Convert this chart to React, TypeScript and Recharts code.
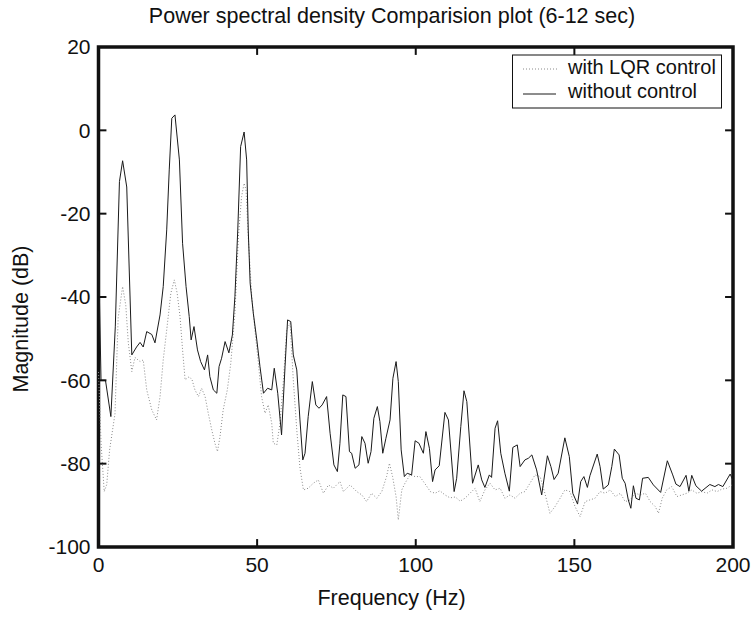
import { Line, LineChart, ReferenceArea, ReferenceLine, XAxis, YAxis } from "recharts";

const FONT = '"Liberation Sans", Arial, Helvetica, sans-serif';

const xTicks = [0, 50, 100, 150, 200];
const yTicks = [20, 0, -20, -40, -60, -80, -100];

// without control (solid)
const freqNoCtrl = [
  0, 0.8, 2.2, 3.9, 5.3, 6.6, 7.6, 8.9, 10.5, 12, 13.1, 14.1, 15.2, 16.8, 17.8, 19.4, 20.4, 21.5,
  22.3, 23.1, 24.1, 25.5, 26.5, 27.6, 28.6, 29.2, 30.1, 31.2, 32.2, 33.4, 34.4, 35.1, 36.2, 37.3,
  38, 38.8, 39.9, 41.1, 42.2, 43, 43.9, 44.8, 45.9, 46.7, 47.2, 47.8, 48.8, 49.9, 50.9, 52, 53.3,
  54.6, 55.4, 56.5, 57.7, 58.8, 59.6, 60.6, 61.4, 62.5, 63.5, 64.4, 65.1, 66.1, 67.4, 68.5, 69.5,
  70.5, 71.9, 73, 74.2, 75.3, 76.1, 77, 78, 79.1, 79.8, 80.9, 82.1, 83, 84, 85, 85.9, 86.8, 87.9,
  88.7, 89.6, 90.6, 91.9, 92.8, 93.8, 94.5, 95.4, 96.4, 97.3, 98.7, 99.8, 101, 102.4, 103.2, 104.3,
  105.3, 106.1, 107.4, 109.2, 110.3, 112.1, 112.9, 114.2, 115.2, 116.1, 117.9, 119.7, 120.8, 121.8,
  123.2, 123.9, 125, 125.8, 126.8, 128.1, 129.5, 130.6, 132, 132.9, 134.4, 135.5, 136.6, 138.1,
  139.7, 141.5, 142.6, 143.6, 144.9, 147, 148.4, 149.5, 151, 152, 153, 154.1, 154.9, 157.2, 158.1,
  159.1, 160.7, 161.8, 162.6, 164.1, 165.1, 166, 167, 167.8, 168.6, 169.4, 170.5, 171.5, 173.3,
  174.9, 177.2, 179.3, 181, 182, 183.3, 185.2, 186.1, 187, 188.3, 190.1, 192.7, 194.3, 195.4,
  196.8, 199.1, 200,
];
const magNoCtrl = [
  -29, -60, -60, -68.7, -47, -12.3, -7.3, -13.6, -53.9, -52, -50.9, -52, -48.3, -49, -51, -44.3,
  -37.5, -23.9, -9.5, 2.9, 3.7, -7.1, -27.1, -37.5, -44.7, -50.3, -47.1, -52.7, -55.5, -57.5, -53.9,
  -59.1, -62.3, -63.1, -56.7, -54.7, -50.7, -53.4, -49.1, -39.9, -23.9, -3.9, -0.4, -7.1, -23.9,
  -36.7, -43.9, -50.3, -56.7, -63.1, -61.9, -62.3, -57.1, -63.1, -73.1, -56.7, -45.5, -45.9, -53.9,
  -57.5, -69.5, -79.1, -77.5, -68.7, -60.3, -65.9, -66.7, -65.9, -63.9, -72.7, -80.3, -81.9, -75.1,
  -63.5, -63.9, -77.1, -77.5, -81.1, -80.3, -73.5, -75.1, -79.9, -77.1, -69.1, -66.3, -69.9, -77.5,
  -73.9, -69.5, -59.5, -55.5, -60.3, -76.7, -83.1, -82.3, -82.7, -74.5, -75.1, -77.5, -72.3, -76.3,
  -84.3, -81.5, -80.5, -67.7, -69.5, -86.7, -83.5, -71.1, -62.5, -65.1, -84.7, -80.3, -83.9, -85.7,
  -82.7, -83.3, -71.5, -69.7, -77.5, -82.3, -86.6, -76.1, -75.5, -80.7, -79.1, -78.7, -77.9, -81.5,
  -87.5, -78.1, -80.7, -83.8, -82.3, -73.8, -78.3, -87.1, -89.7, -84.3, -83.1, -85.7, -82.9, -77.7,
  -80.7, -86.1, -85.1, -80.7, -76.5, -77.9, -83.5, -84.7, -88.7, -90.7, -85.3, -88.3, -88.7, -83.5,
  -83.3, -85.1, -86.9, -79.3, -82.7, -84.9, -85.5, -82.8, -86.6, -82.8, -85.3, -86.6, -85, -85.5,
  -85, -85.5, -82.5, -84,
];

// with LQR control (dotted)
const freqLqr = [
  0, 0.8, 1.8, 2.6, 3.5, 5.2, 6.2, 7.6, 8.6, 9.4, 10.5, 11.5, 13.1, 14.1, 15.2, 16.8, 18.3, 19.4,
  20.4, 21.5, 22.8, 23.9, 24.8, 25.7, 26.5, 27.3, 28.6, 29.5, 30.4, 31.5, 32.5, 33.6, 34.6, 35.7,
  36.7, 37.5, 38.3, 39.3, 40.6, 41.7, 43, 44.1, 45.1, 45.9, 46.5, 47.2, 48.3, 49.3, 50.4, 51.4, 52.5,
  53.5, 54.6, 55.1, 56.2, 57.2, 58.3, 59.3, 60.4, 61.4, 62.5, 63.5, 64.6, 66.1, 67.7, 69.3, 70.9,
  72.5, 74, 76.1, 77.2, 79.3, 81.4, 83, 84.5, 86.1, 87.7, 89.3, 90.8, 91.7, 92.7, 93.8, 94.5, 95.6,
  96.6, 98.2, 99.8, 101.3, 102.8, 104.6, 106.1, 107.6, 109.2, 110.8, 112.5, 114, 115.5, 117.1,
  118.7, 120.2, 121.8, 123.4, 125, 126.6, 128.1, 129.7, 131.3, 132.9, 134.4, 136, 137.6, 139.2,
  140.7, 142.3, 143.9, 145.5, 147, 148.6, 150.2, 151.8, 153.4, 154.9, 156.5, 158.1, 159.7, 161.3,
  162.9, 164.5, 166, 167.6, 169.2, 170.8, 172.4, 173.9, 175.5, 176.5, 177.7, 179.1, 180.7, 182.3,
  183.9, 185.4, 187, 188.6, 190.2, 191.8, 193.4, 195, 196.5, 198.1, 199.7,
];
const magLqr = [
  -58, -75, -86.7, -85, -76.7, -68, -45, -37.5, -42, -51, -57.9, -54.5, -55.5, -55.1, -62.3, -67.1,
  -69.5, -63.9, -55.1, -47.9, -39.1, -35.9, -39.1, -44.7, -52.7, -59.9, -59.1, -59.9, -62.3, -63.9,
  -61.9, -63.9, -67.9, -71.9, -75.1, -77.1, -73.5, -67.1, -62.3, -55.9, -43.9, -25.5, -15.9, -12.7,
  -14.3, -25.5, -39.9, -47.9, -55.9, -63.9, -67.9, -65.9, -70.3, -75.1, -75.5, -70.3, -59.9, -47.9,
  -46.3, -59.9, -71.9, -81, -86.3, -85.9, -84.7, -83.9, -87.1, -85.1, -85.9, -84.3, -86.7, -85.1,
  -86.7, -87.5, -89.1, -87.1, -88.3, -86.7, -83.1, -79.9, -83.1, -87.9, -93.5, -86.3, -84.7, -82.7,
  -83.1, -83.1, -84.7, -86.7, -87.1, -86.5, -87.5, -88.2, -88, -89, -88.3, -87.1, -85.9, -89.1,
  -86.3, -84.7, -86.3, -85.9, -88.3, -87.5, -88.3, -87.1, -86.7, -84.7, -82.7, -83.1, -87.1, -91.9,
  -90.3, -88.3, -86.3, -86.7, -90.3, -92.7, -89.1, -88.7, -88.3, -86.7, -87.1, -86.3, -87.9, -87.1,
  -89.1, -88.7, -87.1, -87.5, -87.1, -89.1, -90.3, -91.9, -88.3, -86.3, -85.5, -87.9, -87.5, -87.1,
  -86.3, -87.1, -86.7, -87.1, -86.3, -86.7, -86.1, -85.9, -85.1,
];

const noCtrlData = freqNoCtrl.map((f, i) => ({ f, db: magNoCtrl[i] }));
const lqrData = freqLqr.map((f, i) => ({ f, db: magLqr[i] }));

const X_MIN = 0;
const X_MAX = 200;
const Y_MIN = -100;
const Y_MAX = 20;

const INK = "#111";
// inward tick length in data units (~8px on this plot)
const X_TICK_LEN = 2.5;
const Y_TICK_LEN = 1.9;

const tickStyle = { fill: INK, fontSize: 21, fontFamily: FONT };

export default function App() {
  // inward tick marks on all four sides of the box
  const tickSegs: Array<[{ x: number; y: number }, { x: number; y: number }]> = [];
  xTicks.forEach((t) => {
    tickSegs.push([{ x: t, y: Y_MIN }, { x: t, y: Y_MIN + Y_TICK_LEN }]);
    tickSegs.push([{ x: t, y: Y_MAX }, { x: t, y: Y_MAX - Y_TICK_LEN }]);
  });
  yTicks.forEach((t) => {
    tickSegs.push([{ x: X_MIN, y: t }, { x: X_MIN + X_TICK_LEN, y: t }]);
    tickSegs.push([{ x: X_MAX, y: t }, { x: X_MAX - X_TICK_LEN, y: t }]);
  });

  return (
    <div style={{ position: "absolute", left: 0, top: 0, width: 755, height: 618, background: "#fff" }}>
      <LineChart
        width={755}
        height={618}
        margin={{ top: 47, right: 22, bottom: 31, left: 38.5 }}
      >
        <XAxis
          dataKey="f"
          type="number"
          domain={[X_MIN, X_MAX]}
          ticks={xTicks}
          interval={0}
          height={40}
          tickSize={0}
          tickMargin={10}
          axisLine={false}
          tickLine={false}
          tick={tickStyle}
        />
        <YAxis
          type="number"
          domain={[Y_MIN, Y_MAX]}
          ticks={yTicks}
          interval={0}
          width={60}
          tickSize={0}
          tickMargin={8}
          axisLine={false}
          tickLine={false}
          tick={tickStyle}
        />
        <Line
          data={lqrData}
          dataKey="db"
          name="with LQR control"
          type="linear"
          stroke="#8a8a8a"
          strokeWidth={1}
          strokeDasharray="1 2"
          dot={false}
          isAnimationActive={false}
        />
        <Line
          data={noCtrlData}
          dataKey="db"
          name="without control"
          type="linear"
          stroke="#1a1a1a"
          strokeWidth={1}
          dot={false}
          isAnimationActive={false}
        />
        {tickSegs.map((seg, i) => (
          <ReferenceLine
            key={i}
            segment={seg}
            stroke={INK}
            strokeWidth={2}
            ifOverflow="visible"
          />
        ))}
        <ReferenceArea
          x1={X_MIN}
          x2={X_MAX}
          y1={Y_MIN}
          y2={Y_MAX}
          fill="none"
          stroke={INK}
          strokeWidth={3.5}
          ifOverflow="visible"
        />
      </LineChart>
      <svg
        width={755}
        height={618}
        style={{ position: "absolute", left: 0, top: 0, pointerEvents: "none" }}
        fontFamily={FONT}
        fill={INK}
      >
        <text x={392} y={23} fontSize={21.5} textAnchor="middle">
          Power spectral density Comparision plot (6-12 sec)
        </text>
        <text x={391.5} y={605} fontSize={21.5} textAnchor="middle">
          Frequency (Hz)
        </text>
        <text x={28} y={319} fontSize={21.5} textAnchor="middle" transform="rotate(-90 28 319)">
          Magnitude (dB)
        </text>
        <rect x={512.5} y={55} width={209} height={53} fill="#fff" stroke={INK} strokeWidth={1} />
        <line x1={523} y1={69} x2={558} y2={69} stroke="#8a8a8a" strokeWidth={1} strokeDasharray="1 2" />
        <line x1={523} y1={94} x2={556} y2={94} stroke="#1a1a1a" strokeWidth={1} />
        <text x={568} y={74} fontSize={20}>with LQR control</text>
        <text x={568} y={98} fontSize={20}>without control</text>
      </svg>
    </div>
  );
}
